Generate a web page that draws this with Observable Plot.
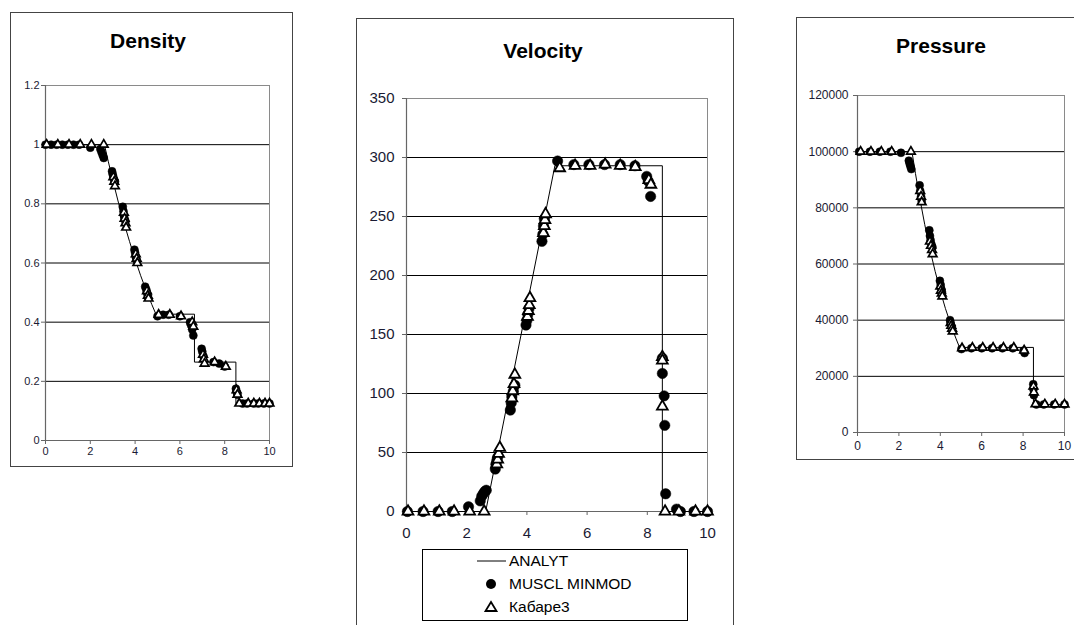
<!DOCTYPE html>
<html><head><meta charset="utf-8">
<script src="https://cdn.jsdelivr.net/npm/d3@7"></script>
<script src="https://cdn.jsdelivr.net/npm/@observablehq/plot@0.6"></script>
<style>
body{margin:0;background:#fff;font-family:"Liberation Sans",Arial,sans-serif;}
#page{position:relative;width:1074px;height:625px;overflow:hidden;background:#fff;}
.box{position:absolute;border:1px solid #444;background:#fff;box-sizing:border-box;}
.title{position:absolute;font-weight:bold;font-size:21px;color:#000;transform:translate(-50%,-50%);white-space:nowrap;line-height:1;}
.chart{position:absolute;}
#legend{position:absolute;left:422px;top:549px;width:266px;height:72px;border:1px solid #000;box-sizing:border-box;background:#fff;}
.lrow{position:absolute;left:0;height:20px;display:flex;align-items:center;}
.lrow svg{position:absolute;left:48px;top:0;}
.lrow span{position:absolute;left:86px;font-size:15.5px;color:#000;white-space:nowrap;top:1px;}
</style></head>
<body><div id="page">
<div class="box" style="left:10px;top:12px;width:283px;height:455px"></div>
<div class="box" style="left:356px;top:18px;width:378px;height:640px"></div>
<div class="box" style="left:796px;top:17px;width:300px;height:443px"></div>
<div class="title" style="left:148px;top:40px">Density</div>
<div class="title" style="left:543px;top:50px">Velocity</div>
<div class="title" style="left:941px;top:45px">Pressure</div>
<div id="legend">
  <div class="lrow" style="top:1px"><svg width="36" height="20"><line x1="6" y1="10" x2="35" y2="10" stroke="#000" stroke-width="1"/></svg><span>ANALYT</span></div>
  <div class="lrow" style="top:24px"><svg width="36" height="20"><circle cx="20" cy="10" r="5" fill="#000"/></svg><span>MUSCL MINMOD</span></div>
  <div class="lrow" style="top:47px"><svg width="36" height="20"><path d="M20,5 L25.5,14 L14.5,14 Z" fill="#fff" stroke="#000" stroke-width="1.8"/></svg><span>Кабаре3</span></div>
</div>
</div>
<script>
// ---------- axes ----------
const xTicks = [0, 2, 4, 6, 8, 10];
const densTicks = [0, 0.2, 0.4, 0.6, 0.8, 1, 1.2];
const velTicks = [0, 50, 100, 150, 200, 250, 300, 350];
const presTicks = [0, 20000, 40000, 60000, 80000, 100000, 120000];
const seriesNames = ["ANALYT", "MUSCL MINMOD", "Кабаре3"];

// ---------- Density ----------
const densAx = [0, 2.63, 2.8, 3.0, 3.25, 3.5, 3.75, 4.0, 4.25, 4.5, 4.75, 4.93, 6.65, 6.65, 8.5, 8.5, 10];
const densAy = [1, 1, 0.944, 0.881, 0.806, 0.737, 0.673, 0.613, 0.557, 0.506, 0.459, 0.427, 0.427, 0.265, 0.265, 0.125, 0.125];
const densMx = [0, 0.25, 0.5, 0.75, 1.0, 1.25, 1.5, 2.0, 2.45, 2.5, 2.55, 2.6, 2.97, 3.0, 3.03, 3.07, 3.1, 3.45, 3.48, 3.5, 3.53, 3.57, 3.97, 4.0, 4.03, 4.07, 4.45, 4.5, 4.53, 4.57, 5.0, 5.25, 5.5, 6.0, 6.45, 6.5, 6.55, 6.6, 6.97, 7.0, 7.05, 7.5, 7.75, 8.0, 8.5, 8.53, 8.57, 8.8, 9.0, 9.3, 9.5, 9.75, 10];
const densMy = [1, 1, 1, 1, 1, 1, 1, 0.99, 0.985, 0.975, 0.965, 0.955, 0.91, 0.9, 0.89, 0.88, 0.875, 0.79, 0.775, 0.76, 0.75, 0.74, 0.645, 0.635, 0.62, 0.61, 0.52, 0.51, 0.5, 0.49, 0.42, 0.425, 0.425, 0.42, 0.4, 0.39, 0.375, 0.355, 0.31, 0.3, 0.285, 0.265, 0.26, 0.25, 0.175, 0.165, 0.155, 0.125, 0.125, 0.125, 0.125, 0.125, 0.125];
const densKx = [0.05, 0.55, 1.05, 1.55, 2.05, 2.6, 3.03, 3.07, 3.1, 3.5, 3.53, 3.57, 3.6, 4.03, 4.07, 4.1, 4.53, 4.57, 4.6, 5.05, 5.55, 6.05, 6.55, 6.6, 7.03, 7.07, 7.1, 7.55, 8.05, 8.53, 8.57, 8.65, 9.05, 9.3, 9.55, 9.8, 10.0];
const densKy = [1, 1, 1, 1, 1, 1, 0.89, 0.875, 0.86, 0.77, 0.75, 0.735, 0.72, 0.63, 0.615, 0.6, 0.505, 0.49, 0.48, 0.425, 0.425, 0.42, 0.4, 0.385, 0.29, 0.275, 0.26, 0.265, 0.25, 0.17, 0.155, 0.125, 0.125, 0.125, 0.125, 0.125, 0.125];

// ---------- Velocity ----------
const velAx = [0, 2.63, 4.93, 8.5, 8.5, 10];
const velAy = [0, 0, 293, 293, 0, 0];
const velMx = [0.03, 0.55, 1.05, 1.52, 2.06, 2.45, 2.5, 2.55, 2.6, 2.65, 2.95, 2.97, 3.0, 3.03, 3.45, 3.48, 3.5, 3.55, 3.6, 3.97, 4.0, 4.03, 4.07, 4.5, 4.53, 4.55, 4.58, 5.02, 5.56, 6.06, 6.58, 7.1, 7.59, 7.98, 8.03, 8.11, 8.5, 8.5, 8.56, 8.58, 8.61, 8.97, 9.1, 9.55, 10];
const velMy = [0, 0, 0, 0, 4, 9, 13, 15, 17, 18, 36, 40, 43, 46, 86, 92, 97, 102, 107, 158, 162, 167, 172, 229, 235, 242, 248, 297, 294, 294, 294, 294, 293, 284, 280, 267, 130, 117, 98, 73, 15, 2, 0, 0, 0];
const velKx = [0.05, 0.58, 1.09, 1.58, 2.1, 2.58, 3.0, 3.03, 3.06, 3.1, 3.5, 3.53, 3.57, 3.6, 4.02, 4.05, 4.08, 4.1, 4.55, 4.58, 4.6, 4.62, 5.09, 5.6, 6.1, 6.6, 7.1, 7.6, 8.05, 8.12, 8.5, 8.5, 8.5, 8.59, 9.05, 9.6, 10];
const velKy = [0, 0, 0, 0, 0, 0, 40, 44, 49, 54, 96, 102, 108, 116, 165, 170, 175, 181, 236, 242, 247, 252, 291, 293, 293, 294, 293, 292, 281, 277, 131, 128, 89, 0, 0, 0, 0];

// ---------- Pressure ----------
const presAx = [0, 2.63, 2.8, 3.0, 3.25, 3.5, 3.75, 4.0, 4.25, 4.5, 4.75, 4.93, 8.5, 8.5, 10];
const presAy = [100000, 100000, 92200, 83700, 74000, 65200, 57400, 50400, 44100, 38600, 33600, 30300, 30300, 10000, 10000];
const presMx = [0.08, 0.6, 1.08, 1.59, 2.1, 2.48, 2.52, 2.56, 2.6, 3.0, 3.03, 3.07, 3.1, 3.47, 3.5, 3.53, 3.57, 3.62, 3.98, 4.02, 4.05, 4.08, 4.47, 4.5, 4.53, 4.57, 5.02, 5.5, 6.0, 6.5, 7.0, 7.5, 8.02, 8.07, 8.49, 8.5, 8.52, 8.64, 9.0, 9.5, 10];
const presMy = [100000, 100000, 100000, 100000, 99600, 96800, 95700, 94700, 93800, 88000, 86000, 84000, 82500, 72000, 70000, 68500, 67000, 66000, 54000, 52500, 51000, 50000, 40000, 39000, 38000, 37000, 29700, 30000, 30000, 30000, 30000, 30000, 29100, 28300, 17200, 15400, 13300, 10000, 10000, 10000, 10000];
const presKx = [0.15, 0.65, 1.15, 1.65, 2.58, 3.03, 3.07, 3.1, 3.5, 3.55, 3.6, 3.63, 4.0, 4.03, 4.07, 4.1, 4.5, 4.53, 4.57, 4.6, 5.05, 5.55, 6.05, 6.55, 7.05, 7.55, 8.05, 8.5, 8.52, 8.6, 9.05, 9.55, 10];
const presKy = [100000, 100000, 100000, 100000, 100000, 86000, 84000, 82000, 68000, 66500, 65000, 63500, 52000, 50500, 49500, 48500, 39000, 38000, 37000, 36000, 30000, 30200, 30200, 30200, 30200, 30200, 29200, 16400, 14300, 10100, 10000, 10000, 10000];

function zip(xs, ys) { return xs.map((x, i) => ({x, y: ys[i]})); }

function panel(o) {
  const yMax = o.yTicks[o.yTicks.length - 1];
  const inner = o.yTicks.filter(v => v > 0 && v < yMax);
  const svg = Plot.plot({
    width: o.width, height: o.height,
    marginLeft: o.mL, marginRight: o.mR, marginTop: o.mT, marginBottom: o.mB,
    x: {domain: [0, 10], axis: null},
    y: {domain: [0, yMax], axis: null},
    style: {fontFamily: '"Liberation Sans", Arial, sans-serif', fontSize: o.fs + "px", color: "#000", background: "transparent", overflow: "visible"},
    marks: [
      Plot.ruleY(inner, {stroke: "#000", strokeWidth: 1}),
      Plot.ruleY([yMax], {stroke: "#8a8a8a", strokeWidth: 1}),
      Plot.ruleX([10], {stroke: "#8a8a8a", strokeWidth: 1}),
      Plot.axisY({ticks: o.yTicks, tickFormat: d => String(d), tickSize: o.tsY, tickPadding: o.tpY, stroke: "#666", fill: "#1a1a33", label: null, fontSize: o.fs}),
      Plot.axisX({ticks: xTicks, tickFormat: d => String(d), tickSize: o.tsX, tickPadding: o.tpX, stroke: "#666", fill: "#1a1a33", label: null, fontSize: o.fs}),
      Plot.ruleX([0], {stroke: "#666", strokeWidth: 1.2}),
      Plot.ruleY([0], {stroke: "#666", strokeWidth: 1.2}),
      Plot.line(zip(o.ax, o.ay), {x: "x", y: "y", stroke: "#000", strokeWidth: 1}),
      Plot.dot(zip(o.mx, o.my), {x: "x", y: "y", r: o.rDot, fill: "#000", stroke: "#000", strokeWidth: 0.5}),
      Plot.dot(zip(o.kx, o.ky), {x: "x", y: "y", r: o.rTri, symbol: "triangle", fill: "#fff", stroke: "#000", strokeWidth: o.swTri})
    ]
  });
  svg.classList.add("chart");
  svg.style.left = o.left + "px";
  svg.style.top = o.top + "px";
  document.getElementById("page").insertBefore(svg, document.getElementById("legend"));
}

panel({left: 12, top: 70, width: 278, height: 394, mL: 33, mR: 21, mT: 15, mB: 24,
  yTicks: densTicks, fs: 11, tsX: 4, tpX: 3, tsY: 4, tpY: 2,
  ax: densAx, ay: densAy, mx: densMx, my: densMy, kx: densKx, ky: densKy, rDot: 4, rTri: 3.2, swTri: 1.7});
panel({left: 357, top: 80, width: 375, height: 470, mL: 49, mR: 25, mT: 18, mB: 39,
  yTicks: velTicks, fs: 15, tsX: 4, tpX: 12, tsY: 4, tpY: 8,
  ax: velAx, ay: velAy, mx: velMx, my: velMy, kx: velKx, ky: velKy, rDot: 5.2, rTri: 4, swTri: 1.8});
panel({left: 797, top: 80, width: 277, height: 375, mL: 60, mR: 10, mT: 15, mB: 23,
  yTicks: presTicks, fs: 12, tsX: 4, tpX: 5, tsY: 4, tpY: 5,
  ax: presAx, ay: presAy, mx: presMx, my: presMy, kx: presKx, ky: presKy, rDot: 4, rTri: 3.2, swTri: 1.7});
</script>
</body></html>
